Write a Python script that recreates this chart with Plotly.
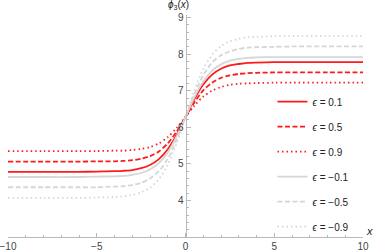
import plotly.graph_objects as go

# sample x positions
x = [-10, -8, -6, -5, -4, -3.5, -3, -2.5, -2, -1.5, -1, -0.5,
     0, 0.5, 1, 1.5, 2, 2.5, 3, 3.5, 4, 5, 6, 8, 10]

# values
phi_e01 = [4.78, 4.78, 4.78, 4.79, 4.80, 4.81, 4.83, 4.88, 4.97, 5.13, 5.40, 5.79,
           6.28, 6.77, 7.17, 7.44, 7.60, 7.69, 7.73, 7.76, 7.77, 7.78, 7.78, 7.78, 7.78]
phi_e05 = [5.06, 5.06, 5.06, 5.07, 5.07, 5.08, 5.10, 5.14, 5.21, 5.34, 5.56, 5.88,
           6.28, 6.68, 7.01, 7.22, 7.35, 7.42, 7.46, 7.48, 7.49, 7.50, 7.50, 7.50, 7.50]
phi_e09 = [5.35, 5.35, 5.35, 5.35, 5.36, 5.36, 5.38, 5.41, 5.46, 5.56, 5.73, 5.98,
           6.28, 6.59, 6.84, 7.00, 7.10, 7.16, 7.19, 7.20, 7.21, 7.22, 7.22, 7.22, 7.22]
phi_em01 = [4.64, 4.64, 4.64, 4.65, 4.66, 4.67, 4.70, 4.75, 4.85, 5.02, 5.31, 5.75,
            6.28, 6.82, 7.25, 7.55, 7.72, 7.82, 7.87, 7.90, 7.91, 7.92, 7.92, 7.92, 7.92]
phi_em05 = [4.36, 4.36, 4.36, 4.36, 4.38, 4.39, 4.42, 4.48, 4.60, 4.80, 5.14, 5.65,
            6.28, 6.91, 7.42, 7.77, 7.97, 8.08, 8.14, 8.18, 8.19, 8.20, 8.21, 8.21, 8.21]
phi_em09 = [4.07, 4.07, 4.07, 4.08, 4.09, 4.11, 4.15, 4.22, 4.35, 4.58, 4.98, 5.56,
            6.28, 7.01, 7.59, 7.98, 8.22, 8.35, 8.42, 8.46, 8.47, 8.49, 8.49, 8.49, 8.49]

labels = ["0.1", "0.5", "0.9", "−0.1", "−0.5", "−0.9"]
series = [phi_e01, phi_e05, phi_e09, phi_em01, phi_em05, phi_em09]

x_ticks = [-10, -5, 0, 5, 10]
x_ticklabels = ["−10", "−5", "0", "5", "10"]
y_ticks = [4, 5, 6, 7, 8, 9]

RED = "#ff1a1a"
GRAY = "#d6d6d6"
styles = [
    (RED, "solid"), (RED, "5px,2.5px"), (RED, "1.5px,3px"),
    (GRAY, "solid"), (GRAY, "5px,2.5px"), (GRAY, "1.5px,3px"),
]

fig = go.Figure()
for i, (lab, ys, (col, dash)) in enumerate(zip(labels, series, styles)):
    fig.add_trace(go.Scatter(
        x=x, y=ys, mode="lines",
        line=dict(color=col, width=1.8, dash=dash, shape="spline", smoothing=0.8),
        name="<i>ϵ</i> = " + lab, legendgroup=str(i),
    ))

FONT = "Liberation Sans, Arial, sans-serif"
TICKCOL = "#444444"
AXCOL = "#b8b8b8"

fig.update_layout(
    width=377, height=252,
    margin=dict(l=8, r=14, t=15, b=15, autoexpand=False),
    plot_bgcolor="white", paper_bgcolor="white",
    font=dict(family=FONT, size=10, color=TICKCOL),
    showlegend=True,
    legend=dict(x=0.745, y=0.675, xanchor="left", yanchor="top",
                bgcolor="rgba(0,0,0,0)", tracegroupgap=6,
                font=dict(size=10, color="#222222"), itemwidth=30),
    xaxis=dict(range=[-10, 10], showgrid=False, zeroline=False, automargin=False,
               showline=True, linecolor=AXCOL, linewidth=1,
               ticks="inside", ticklen=4, tickcolor=AXCOL,
               tickvals=x_ticks, ticktext=x_ticklabels,
               ticklabeloverflow="allow",
               minor=dict(dtick=1, ticks="inside", ticklen=2.5, tickcolor=AXCOL),
               tickfont=dict(size=10, color=TICKCOL)),
    yaxis=dict(range=[3, 9.07], showgrid=False, zeroline=False, automargin=False,
               anchor="free", position=0.5,
               showline=True, linecolor=AXCOL, linewidth=1,
               ticks="inside", ticklen=4, tickcolor=AXCOL,
               tickvals=y_ticks, ticklabeloverflow="allow",
               minor=dict(dtick=0.2, ticks="inside", ticklen=2.5, tickcolor=AXCOL),
               tickfont=dict(size=10, color=TICKCOL)),
)

fig.add_annotation(x=0.5, y=1, xref="paper", yref="paper", text="<i>ϕ</i><sub>3</sub>(<i>x</i>)",
                   showarrow=False, xanchor="center", yanchor="bottom", xshift=-7, yshift=2,
                   font=dict(size=10, color="#222222"))
fig.add_annotation(x=1, y=0, xref="paper", yref="paper", text="<i>x</i>",
                   showarrow=False, xanchor="left", yanchor="bottom", xshift=1, yshift=-2,
                   font=dict(size=11, color="#222222"))

fig.write_html("out.html", config={"displayModeBar": False},
               post_script="document.body.style.margin='0';")
